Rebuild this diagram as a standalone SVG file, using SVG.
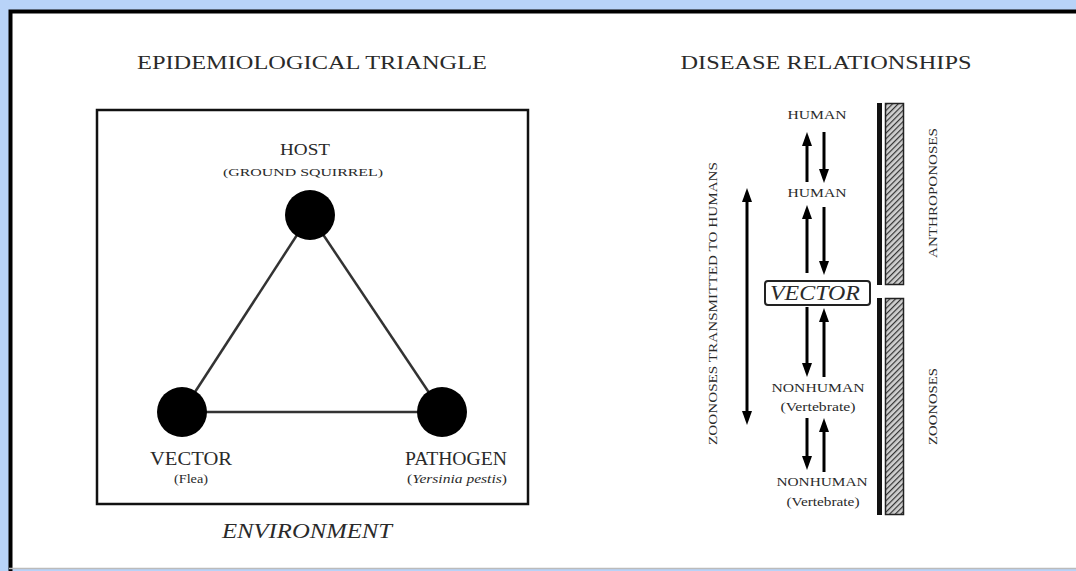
<svg xmlns="http://www.w3.org/2000/svg" width="1076" height="571" viewBox="0 0 1076 571">
<defs>
<style>
.t{font-family:"Liberation Serif","Times New Roman",serif;fill:#2a2a2a}
.it{font-style:italic}
.edge{stroke:#333;stroke-width:2.5;fill:none}
.arr{stroke:#000;stroke-width:3;fill:none}
.node{fill:#000}
.bar{fill:#111}
.hbar{fill:url(#hatch);stroke:#222;stroke-width:1.5}
</style>
<marker id="ah" viewBox="0 0 14 10" refX="6" refY="5" markerWidth="14" markerHeight="10" markerUnits="userSpaceOnUse" orient="auto-start-reverse">
<path d="M0,0 L14,5 L0,10 z" fill="#000"/>
</marker>
<pattern id="hatch" patternUnits="userSpaceOnUse" width="4" height="4" patternTransform="rotate(-45)">
<rect width="4" height="4" fill="#d0d0d0"/>
<line x1="0" y1="0" x2="4" y2="0" stroke="#333" stroke-width="2.4"/>
</pattern>
</defs>
<rect x="0" y="0" width="1076" height="571" fill="#b8d3f8"/>
<rect x="9" y="10" width="1067" height="558" fill="#fff"/>
<path d="M10.5,571 L10.5,11.5 L1076,11.5" fill="none" stroke="#000" stroke-width="4"/>
<line x1="9" y1="568.5" x2="1076" y2="568.5" stroke="#bbb" stroke-width="1.5"/>

<text class="t" x="312" y="69" font-size="19" text-anchor="middle" textLength="350" lengthAdjust="spacingAndGlyphs">EPIDEMIOLOGICAL TRIANGLE</text>
<text class="t" x="826" y="69" font-size="19" text-anchor="middle" textLength="291" lengthAdjust="spacingAndGlyphs">DISEASE RELATIONSHIPS</text>

<g id="environment">
<rect x="97" y="110" width="431" height="394" fill="none" stroke="#111" stroke-width="2.5"/>
<text class="t it" x="307" y="538" font-size="21" text-anchor="middle" textLength="170" lengthAdjust="spacingAndGlyphs">ENVIRONMENT</text>
</g>

<g id="triangle-edges">
<line class="edge" x1="310" y1="215" x2="182" y2="412"/>
<line class="edge" x1="310" y1="215" x2="442" y2="412"/>
<line class="edge" x1="182" y1="412" x2="442" y2="412"/>
</g>

<g id="host">
<circle class="node" cx="310" cy="215" r="25"/>
<text class="t" x="305" y="155" font-size="16" text-anchor="middle" textLength="50" lengthAdjust="spacingAndGlyphs">HOST</text>
<text class="t" x="303" y="176" font-size="11" text-anchor="middle" textLength="160" lengthAdjust="spacingAndGlyphs">(GROUND SQUIRREL)</text>
</g>
<g id="vector">
<circle class="node" cx="182" cy="412" r="25"/>
<text class="t" x="191" y="465" font-size="18" text-anchor="middle" textLength="82" lengthAdjust="spacingAndGlyphs">VECTOR</text>
<text class="t" x="191" y="483" font-size="12" text-anchor="middle" textLength="34" lengthAdjust="spacingAndGlyphs">(Flea)</text>
</g>
<g id="pathogen">
<circle class="node" cx="442" cy="412" r="25"/>
<text class="t" x="456" y="465" font-size="18" text-anchor="middle" textLength="102" lengthAdjust="spacingAndGlyphs">PATHOGEN</text>
<text class="t" x="457" y="483" font-size="12" text-anchor="middle" textLength="100" lengthAdjust="spacingAndGlyphs">(<tspan class="it">Yersinia pestis</tspan>)</text>
</g>

<g id="human-1">
<text class="t" x="817" y="119" font-size="12" text-anchor="middle" textLength="59" lengthAdjust="spacingAndGlyphs">HUMAN</text>
</g>
<g id="human-2">
<text class="t" x="817" y="197" font-size="12" text-anchor="middle" textLength="59" lengthAdjust="spacingAndGlyphs">HUMAN</text>
</g>
<g id="vector-box">
<rect x="765" y="281" width="105" height="24" rx="3" fill="#fff" stroke="#222" stroke-width="2"/>
<text class="t it" x="815" y="300" font-size="20" text-anchor="middle" textLength="90" lengthAdjust="spacingAndGlyphs">VECTOR</text>
</g>
<g id="nonhuman-1">
<text class="t" x="818" y="392" font-size="12" text-anchor="middle" textLength="93" lengthAdjust="spacingAndGlyphs">NONHUMAN</text>
<text class="t" x="818" y="411" font-size="12" text-anchor="middle" textLength="75" lengthAdjust="spacingAndGlyphs">(Vertebrate)</text>
</g>
<g id="nonhuman-2">
<text class="t" x="822" y="486" font-size="12" text-anchor="middle" textLength="91" lengthAdjust="spacingAndGlyphs">NONHUMAN</text>
<text class="t" x="823" y="506" font-size="12" text-anchor="middle" textLength="73" lengthAdjust="spacingAndGlyphs">(Vertebrate)</text>
</g>

<g id="connectors">
<line class="arr" x1="807" y1="182" x2="807" y2="140" marker-end="url(#ah)"/>
<line class="arr" x1="824" y1="132" x2="824" y2="175" marker-end="url(#ah)"/>
<line class="arr" x1="807" y1="273" x2="807" y2="213" marker-end="url(#ah)"/>
<line class="arr" x1="824" y1="207" x2="824" y2="267" marker-end="url(#ah)"/>
<line class="arr" x1="807" y1="307" x2="807" y2="369" marker-end="url(#ah)"/>
<line class="arr" x1="824" y1="377" x2="824" y2="316" marker-end="url(#ah)"/>
<line class="arr" x1="807" y1="418" x2="807" y2="462" marker-end="url(#ah)"/>
<line class="arr" x1="824" y1="472" x2="824" y2="426" marker-end="url(#ah)"/>
<line class="arr" x1="747" y1="196" x2="747" y2="417" marker-start="url(#ah)" marker-end="url(#ah)"/>
</g>

<g id="zoonoses-transmitted">
<text class="t" transform="translate(717,445) rotate(-90)" x="0" y="0" font-size="12" textLength="283" lengthAdjust="spacingAndGlyphs">ZOONOSES TRANSMITTED TO HUMANS</text>
</g>
<g id="anthroponoses">
<rect class="bar" x="877" y="103" width="5" height="182"/>
<rect class="hbar" x="885.5" y="103.5" width="18" height="181"/>
<text class="t" transform="translate(937,258) rotate(-90)" x="0" y="0" font-size="12" textLength="130" lengthAdjust="spacingAndGlyphs">ANTHROPONOSES</text>
</g>
<g id="zoonoses">
<rect class="bar" x="877" y="298" width="5" height="217"/>
<rect class="hbar" x="885.5" y="298.5" width="18" height="216"/>
<text class="t" transform="translate(937,445) rotate(-90)" x="0" y="0" font-size="12" textLength="77" lengthAdjust="spacingAndGlyphs">ZOONOSES</text>
</g>
</svg>
